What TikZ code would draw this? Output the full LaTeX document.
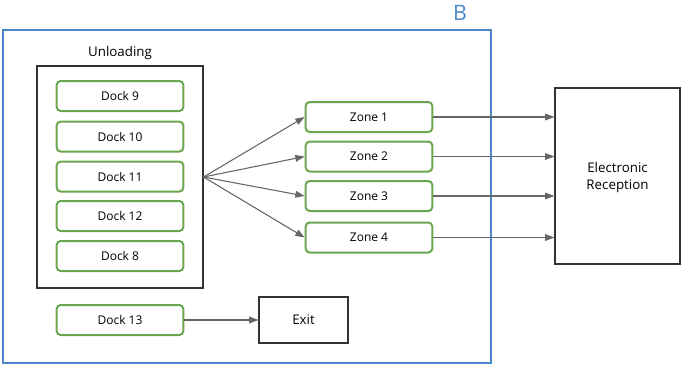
\documentclass[tikz,border=0pt]{standalone}
\usepackage{fontspec}
\setmainfont{Open Sans}
\usepackage{tikz}
\usetikzlibrary{arrows.meta,positioning}
\definecolor{frameblue}{RGB}{74,134,200}
\definecolor{dockgreen}{RGB}{106,168,79}
\definecolor{linkgray}{RGB}{102,102,102}

\begin{document}
\begin{tikzpicture}[
  x=0.75pt, y=-0.75pt,
  dock/.style={draw=dockgreen, line width=1.5pt, rounded corners=3pt, minimum width=95pt, minimum height=22.5pt, inner sep=0pt, font=\fontsize{9}{10}\selectfont},
  plainbox/.style={draw=black!80, line width=0.8pt, inner sep=0pt, align=center, font=\fontsize{10}{12.5}\selectfont},
  arrow/.style={-{Triangle[length=7pt, width=5pt]}, draw=linkgray, line width=0.8pt}
]
\useasboundingbox (0,0) rectangle (683,365);

\node[draw=frameblue, line width=1.6pt, minimum width=366pt, minimum height=249.75pt, inner sep=0pt] (site) at (247, 196.5) {};
\node[text=frameblue, font=\fontsize{16}{18}\selectfont] (sitelabel) at (460, 13) {B};

\node[plainbox, minimum width=124.5pt, minimum height=166.5pt] (unload) at (120, 177) {};
\node[font=\fontsize{10}{12}\selectfont] (unloadlabel) at (120, 53) {Unloading};

\node[dock] (d9) at (120, 96) {Dock 9};
\node[dock] (d10) at (120, 136.5) {Dock 10};
\node[dock] (d11) at (120, 176.5) {Dock 11};
\node[dock] (d12) at (120, 216) {Dock 12};
\node[dock] (d8) at (120, 256) {Dock 8};
\node[dock] (d13) at (120, 320) {Dock 13};

\node[plainbox, minimum width=66.75pt, minimum height=34.5pt] (exit) at (303.5, 320) {Exit};

\node[dock] (z1) at (369, 117) {Zone 1};
\node[dock] (z2) at (369, 156.5) {Zone 2};
\node[dock] (z3) at (369, 196) {Zone 3};
\node[dock] (z4) at (369, 237.5) {Zone 4};

\node[plainbox, minimum width=93.75pt, minimum height=132pt, text depth=-6pt] (recv) at (617.5, 176) {Electronic\\Reception};

\coordinate (fan) at (unload.east);

\foreach \z in {z1,z2,z3,z4}{
  \draw[arrow] (fan) -- (\z.west);
  \draw[arrow] (\z.east) -- (\z.east -| recv.west);
}
\draw[arrow] (d13) -- (exit);
\end{tikzpicture}
\end{document}
